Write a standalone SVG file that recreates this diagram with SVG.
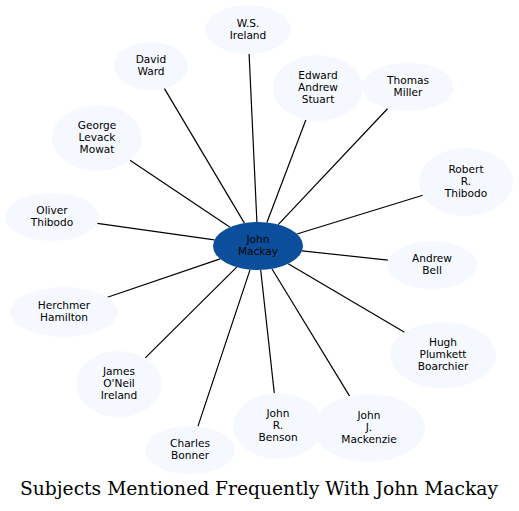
<svg xmlns="http://www.w3.org/2000/svg" width="519" height="511" viewBox="0 0 519 511">
<style>
.n ellipse{fill:#f5f9ff;stroke:none}
.c ellipse{fill:#0b4f9c;stroke:none}
text{font-family:"DejaVu Sans",sans-serif;font-size:10.6px;text-anchor:middle;fill:#000}
.t{font-family:"DejaVu Serif",serif;font-size:18.5px}
#edges line{stroke:#000;stroke-width:1.2}
</style>
<rect width="519" height="511" fill="#fff"/>
<g id="edges">
<line x1="249.1" y1="54" x2="256.9" y2="222"/>
<line x1="305.9" y1="119.8" x2="266.9" y2="222.5"/>
<line x1="387.7" y1="108.5" x2="278.2" y2="224.6"/>
<line x1="164.3" y1="88.4" x2="244.4" y2="223.1"/>
<line x1="130" y1="160.3" x2="230" y2="227.2"/>
<line x1="97.3" y1="223.4" x2="214.5" y2="239.9"/>
<line x1="422.8" y1="195.3" x2="296.9" y2="234"/>
<line x1="387.9" y1="260.2" x2="302.1" y2="250.8"/>
<line x1="107.5" y1="297.2" x2="220.1" y2="258.9"/>
<line x1="145.3" y1="357.9" x2="236.7" y2="267.1"/>
<line x1="197.9" y1="426.4" x2="250.1" y2="269.6"/>
<line x1="274.3" y1="393.1" x2="260.7" y2="270"/>
<line x1="349.6" y1="396.1" x2="271.9" y2="268.8"/>
<line x1="404.5" y1="332.3" x2="288.2" y2="263.8"/>
</g>
<g id="john_mackay" class="c"><ellipse cx="258" cy="246" rx="45" ry="24"/><text x="258" y="243">John</text><text x="258" y="255">Mackay</text></g>
<g id="ws_ireland" class="n"><ellipse cx="248" cy="29.5" rx="43" ry="24.5"/><text x="248" y="26.5">W.S.</text><text x="248" y="38.5">Ireland</text></g>
<g id="edward_andrew_stuart" class="n"><ellipse cx="318" cy="88" rx="45" ry="33"/><text x="318" y="79">Edward</text><text x="318" y="91">Andrew</text><text x="318" y="103">Stuart</text></g>
<g id="thomas_miller" class="n"><ellipse cx="408" cy="87" rx="46" ry="24"/><text x="408" y="84">Thomas</text><text x="408" y="96">Miller</text></g>
<g id="david_ward" class="n"><ellipse cx="151" cy="66" rx="37" ry="24"/><text x="151" y="63">David</text><text x="151" y="75">Ward</text></g>
<g id="george_levack_mowat" class="n"><ellipse cx="97" cy="138" rx="45" ry="33"/><text x="97" y="129">George</text><text x="97" y="141">Levack</text><text x="97" y="153">Mowat</text></g>
<g id="oliver_thibodo" class="n"><ellipse cx="52" cy="217" rx="47" ry="24"/><text x="52" y="214">Oliver</text><text x="52" y="226">Thibodo</text></g>
<g id="robert_r_thibodo" class="n"><ellipse cx="466" cy="182" rx="47" ry="34"/><text x="466" y="173">Robert</text><text x="466" y="185">R.</text><text x="466" y="197">Thibodo</text></g>
<g id="andrew_bell" class="n"><ellipse cx="432" cy="265" rx="45" ry="24"/><text x="432" y="262">Andrew</text><text x="432" y="274">Bell</text></g>
<g id="herchmer_hamilton" class="n"><ellipse cx="64" cy="312" rx="54" ry="25"/><text x="64" y="309">Herchmer</text><text x="64" y="321">Hamilton</text></g>
<g id="james_oneil_ireland" class="n"><ellipse cx="119" cy="384" rx="43" ry="33"/><text x="119" y="375">James</text><text x="119" y="387">O'Neil</text><text x="119" y="399">Ireland</text></g>
<g id="charles_bonner" class="n"><ellipse cx="190" cy="450" rx="45" ry="24"/><text x="190" y="447">Charles</text><text x="190" y="459">Bonner</text></g>
<g id="john_r_benson" class="n"><ellipse cx="278" cy="426" rx="45" ry="33"/><text x="278" y="417">John</text><text x="278" y="429">R.</text><text x="278" y="441">Benson</text></g>
<g id="john_j_mackenzie" class="n"><ellipse cx="369" cy="428" rx="56" ry="34"/><text x="369" y="419">John</text><text x="369" y="431">J.</text><text x="369" y="443">Mackenzie</text></g>
<g id="hugh_plumkett_boarchier" class="n"><ellipse cx="443" cy="355" rx="53" ry="33"/><text x="443" y="346">Hugh</text><text x="443" y="358">Plumkett</text><text x="443" y="370">Boarchier</text></g>
<text class="t" x="259" y="495" textLength="478" lengthAdjust="spacingAndGlyphs">Subjects Mentioned Frequently With John Mackay</text>
</svg>
